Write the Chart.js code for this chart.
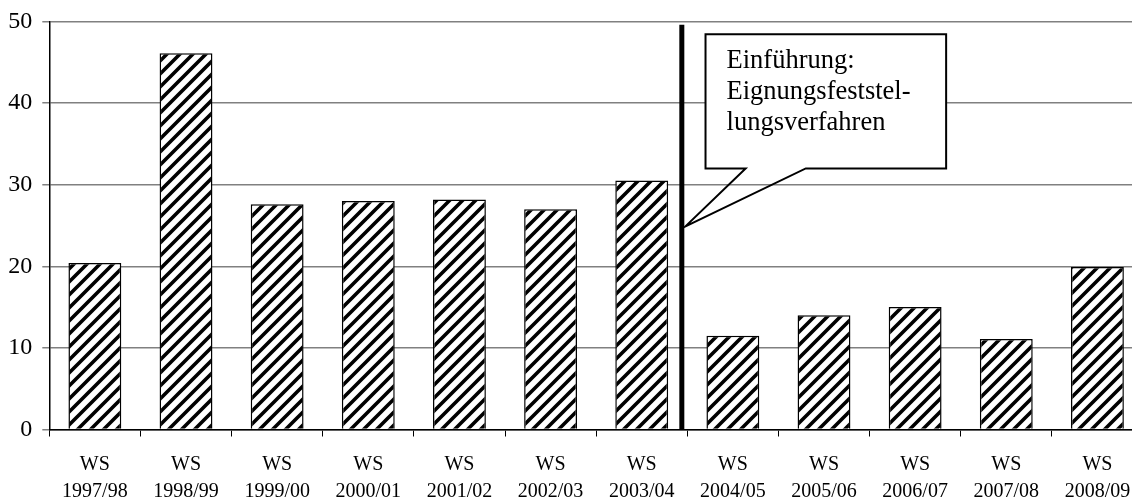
<!DOCTYPE html>
<html>
<head>
<meta charset="utf-8">
<title>Studienanfänger je Wintersemester</title>
<script src="https://cdn.jsdelivr.net/npm/chart.js@4/dist/chart.umd.min.js"></script>
<style>
  html, body { margin: 0; padding: 0; background: #fff; overflow: hidden; }
  canvas { display: block; }
</style>
</head>
<body>
<canvas id="chart" width="1150" height="500"></canvas>
<script>
// Semesters on the category axis
const semesters = ['1997/98', '1998/99', '1999/00', '2000/01', '2001/02', '2002/03',
                   '2003/04', '2004/05', '2005/06', '2006/07', '2007/08', '2008/09'];
const termPrefix = 'WS';
// Value per winter semester
const values = [20.4, 46.1, 27.6, 28.0, 28.2, 27.0, 30.5, 11.5, 14.0, 15.0, 11.1, 19.9];
// Value axis
const yMin = 0;
const yMax = 50;
const yStep = 10;
// Note text in the callout
const calloutLines = ['Einführung:', 'Eignungsfeststel-', 'lungsverfahren'];

// Where the reform divider and its callout sit, in axis units
const divider = { at: 6.44, top: 49.6 };
const callout = { left: 6.70, right: 9.34, top: 48.45, bottom: 32.0,
                  baseLeft: 7.14, baseRight: 7.80, tipX: 6.48, tipY: 24.9 };

const serif = "'Liberation Serif', 'Times New Roman', serif";
Chart.defaults.font.family = serif;
Chart.defaults.color = '#000';

// Diagonal hatch fill for the bars
function makeHatch() {
  const s = 13;
  const c = document.createElement('canvas');
  c.width = s; c.height = s;
  const g = c.getContext('2d');
  g.fillStyle = '#fff';
  g.fillRect(0, 0, s, s);
  g.strokeStyle = '#000';
  g.lineWidth = 3.6;
  g.beginPath();
  g.moveTo(-2, s + 2); g.lineTo(s + 2, -2);
  g.moveTo(-2, 2); g.lineTo(2, -2);
  g.moveTo(s - 2, s + 2); g.lineTo(s + 2, s - 2);
  g.stroke();
  return g.createPattern(c, 'repeat');
}

const reformMarker = {
  id: 'reformMarker',
  afterDatasetsDraw(chart) {
    const { ctx, scales: { x, y } } = chart;
    ctx.save();

    // thick divider between 2003/04 and 2004/05
    const dx = x.getPixelForValue(divider.at);
    ctx.beginPath();
    ctx.strokeStyle = '#000';
    ctx.lineWidth = 5;
    ctx.moveTo(dx, y.getPixelForValue(divider.top));
    ctx.lineTo(dx, y.getPixelForValue(0));
    ctx.stroke();

    // callout box with pointer
    const L = x.getPixelForValue(callout.left);
    const R = x.getPixelForValue(callout.right);
    const T = y.getPixelForValue(callout.top);
    const B = y.getPixelForValue(callout.bottom);
    const bL = x.getPixelForValue(callout.baseLeft);
    const bR = x.getPixelForValue(callout.baseRight);
    const tx = x.getPixelForValue(callout.tipX);
    const ty = y.getPixelForValue(callout.tipY);

    ctx.fillStyle = '#fff';
    ctx.fillRect(L, T, R - L, B - T);
    ctx.beginPath();
    ctx.moveTo(L, T);
    ctx.lineTo(R, T);
    ctx.lineTo(R, B);
    ctx.lineTo(bR, B);
    ctx.lineTo(tx, ty);
    ctx.lineTo(bL, B);
    ctx.lineTo(L, B);
    ctx.closePath();
    ctx.lineWidth = 2;
    ctx.lineJoin = 'miter';
    ctx.stroke();

    ctx.fillStyle = '#000';
    ctx.font = '26.5px ' + serif;
    ctx.textAlign = 'left';
    ctx.textBaseline = 'alphabetic';
    calloutLines.forEach((line, i) => {
      ctx.fillText(line, L + 21, T + 34 + i * 31);
    });
    ctx.restore();
  }
};

new Chart(document.getElementById('chart'), {
  type: 'bar',
  data: {
    labels: semesters,
    datasets: [{
      data: values,
      backgroundColor: makeHatch(),
      borderColor: '#000',
      borderWidth: 1.5,
      barPercentage: 0.58,
      categoryPercentage: 1.0
    }]
  },
  options: {
    responsive: false,
    animation: false,
    layout: { padding: { top: 21.5, right: 7, left: 0, bottom: 0 } },
    plugins: {
      legend: { display: false },
      tooltip: { enabled: false }
    },
    scales: {
      x: {
        offset: true,
        grid: {
          offset: true,
          drawOnChartArea: false,
          drawTicks: true,
          tickLength: 7,
          color: '#000',
          lineWidth: 1
        },
        border: { color: '#000', width: 1.5 },
        ticks: {
          font: { size: 20, lineHeight: 1.35 },
          padding: 14.5,
          maxRotation: 0,
          autoSkip: false,
          callback: (v, i) => [termPrefix, semesters[i]]
        },
        afterFit: (s) => { s.height = 70.5; }
      },
      y: {
        min: yMin,
        max: yMax,
        ticks: {
          stepSize: yStep,
          font: { size: 24 },
          padding: 10
        },
        grid: {
          color: '#808080',
          lineWidth: 1.5,
          tickLength: 7
        },
        border: { color: '#000', width: 1.5 },
        afterFit: (s) => {
          s.width = 49.3;
          s.paddingTop = 0;
          s.paddingBottom = 0;
        }
      }
    }
  },
  plugins: [reformMarker]
});
</script>
</body>
</html>
